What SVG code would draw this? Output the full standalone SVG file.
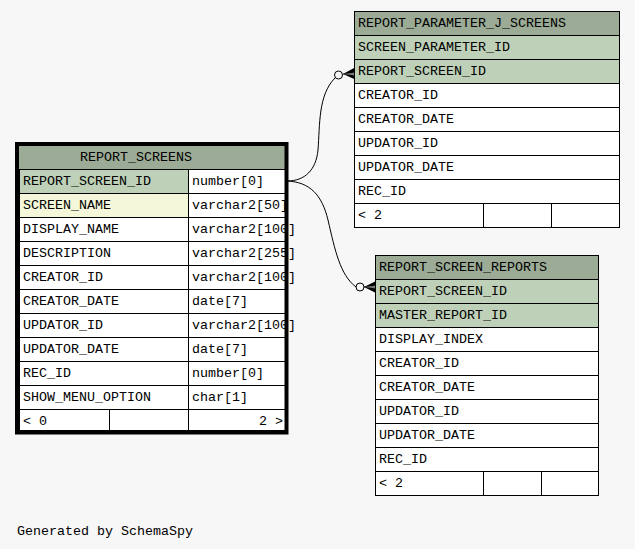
<svg xmlns="http://www.w3.org/2000/svg" width="635" height="549" viewBox="0 0 635 549">
<style>
text{font-family:"Liberation Mono","DejaVu Sans Mono",monospace;font-size:13.33px;fill:#000}
.c{stroke:#000;stroke-width:1}
.hd{fill:#9bab96}
.pk{fill:#bed1b8}
.ix{fill:#f4f7da}
.w{fill:#ffffff}
.edge{fill:none;stroke:#000;stroke-width:1}
</style>
<rect x="0" y="0" width="635" height="549" fill="#f7f7f7"/>

<g id="connectors">
  <path class="edge" d="M287,181 C305,181 316,170 318,150 C320,125 318,95 335,78"/>
  <circle class="edge" cx="338.5" cy="75" r="4"/>
  <path d="M354,68 L343,74 L354,72.8 Z M354,79 L343,74 L354,75.2 Z" fill="#000"/>
  <line class="edge" x1="343" y1="74" x2="354" y2="74"/>

  <path class="edge" d="M287,181 C310,182 322,195 328,220 C335,250 340,275 356,287"/>
  <circle class="edge" cx="360" cy="287" r="4"/>
  <path d="M375,281.5 L364,287 L375,285.8 Z M375,292.5 L364,287 L375,288.2 Z" fill="#000"/>
  <line class="edge" x1="364" y1="287" x2="375" y2="287"/>
</g>

<g id="REPORT_SCREENS">
  <rect class="hd" x="19" y="146" width="267" height="23"/>
  <text x="80" y="161">REPORT_SCREENS</text>
  <rect class="pk c" x="19.5" y="169.5" width="169" height="24"/>
  <rect class="w c" x="188.5" y="169.5" width="97.5" height="24"/>
  <text x="23" y="185">REPORT_SCREEN_ID</text><text x="192" y="185">number[0]</text>
  <rect class="ix c" x="19.5" y="193.5" width="169" height="24"/>
  <rect class="w c" x="188.5" y="193.5" width="97.5" height="24"/>
  <text x="23" y="209">SCREEN_NAME</text><text x="192" y="209">varchar2[50]</text>
  <rect class="w c" x="19.5" y="217.5" width="169" height="24"/>
  <rect class="w c" x="188.5" y="217.5" width="97.5" height="24"/>
  <text x="23" y="233">DISPLAY_NAME</text><text x="192" y="233">varchar2[100]</text>
  <rect class="w c" x="19.5" y="241.5" width="169" height="24"/>
  <rect class="w c" x="188.5" y="241.5" width="97.5" height="24"/>
  <text x="23" y="257">DESCRIPTION</text><text x="192" y="257">varchar2[255]</text>
  <rect class="w c" x="19.5" y="265.5" width="169" height="24"/>
  <rect class="w c" x="188.5" y="265.5" width="97.5" height="24"/>
  <text x="23" y="281">CREATOR_ID</text><text x="192" y="281">varchar2[100]</text>
  <rect class="w c" x="19.5" y="289.5" width="169" height="24"/>
  <rect class="w c" x="188.5" y="289.5" width="97.5" height="24"/>
  <text x="23" y="305">CREATOR_DATE</text><text x="192" y="305">date[7]</text>
  <rect class="w c" x="19.5" y="313.5" width="169" height="24"/>
  <rect class="w c" x="188.5" y="313.5" width="97.5" height="24"/>
  <text x="23" y="329">UPDATOR_ID</text><text x="192" y="329">varchar2[100]</text>
  <rect class="w c" x="19.5" y="337.5" width="169" height="24"/>
  <rect class="w c" x="188.5" y="337.5" width="97.5" height="24"/>
  <text x="23" y="353">UPDATOR_DATE</text><text x="192" y="353">date[7]</text>
  <rect class="w c" x="19.5" y="361.5" width="169" height="24"/>
  <rect class="w c" x="188.5" y="361.5" width="97.5" height="24"/>
  <text x="23" y="377">REC_ID</text><text x="192" y="377">number[0]</text>
  <rect class="w c" x="19.5" y="385.5" width="169" height="24"/>
  <rect class="w c" x="188.5" y="385.5" width="97.5" height="24"/>
  <text x="23" y="401">SHOW_MENU_OPTION</text><text x="192" y="401">char[1]</text>
  <rect class="w c" x="19.5" y="409.5" width="90" height="21"/>
  <rect class="w c" x="109.5" y="409.5" width="79" height="21"/>
  <rect class="w c" x="188.5" y="409.5" width="97.5" height="21"/>
  <text x="23" y="425">&lt; 0</text><text x="283" y="425" text-anchor="end">2 &gt;</text>
  <rect x="17" y="144" width="269.5" height="288.5" fill="none" stroke="#000" stroke-width="4"/>
</g>

<g id="REPORT_PARAMETER_J_SCREENS">
  <rect class="hd c" x="354.5" y="11.5" width="265" height="24"/>
  <text x="358" y="27">REPORT_PARAMETER_J_SCREENS</text>
  <rect class="pk c" x="354.5" y="35.5" width="265" height="24"/>
  <text x="358" y="51">SCREEN_PARAMETER_ID</text>
  <rect class="pk c" x="354.5" y="59.5" width="265" height="24"/>
  <text x="358" y="75">REPORT_SCREEN_ID</text>
  <rect class="w c" x="354.5" y="83.5" width="265" height="24"/>
  <text x="358" y="99">CREATOR_ID</text>
  <rect class="w c" x="354.5" y="107.5" width="265" height="24"/>
  <text x="358" y="123">CREATOR_DATE</text>
  <rect class="w c" x="354.5" y="131.5" width="265" height="24"/>
  <text x="358" y="147">UPDATOR_ID</text>
  <rect class="w c" x="354.5" y="155.5" width="265" height="24"/>
  <text x="358" y="171">UPDATOR_DATE</text>
  <rect class="w c" x="354.5" y="179.5" width="265" height="24"/>
  <text x="358" y="195">REC_ID</text>
  <rect class="w c" x="354.5" y="203.5" width="129" height="24"/>
  <rect class="w c" x="483.5" y="203.5" width="68" height="24"/>
  <rect class="w c" x="551.5" y="203.5" width="68" height="24"/>
  <text x="358" y="219">&lt; 2</text>
</g>

<g id="REPORT_SCREEN_REPORTS">
  <rect class="hd c" x="375.5" y="255.5" width="223" height="24"/>
  <text x="379" y="271">REPORT_SCREEN_REPORTS</text>
  <rect class="pk c" x="375.5" y="279.5" width="223" height="24"/>
  <text x="379" y="295">REPORT_SCREEN_ID</text>
  <rect class="pk c" x="375.5" y="303.5" width="223" height="24"/>
  <text x="379" y="319">MASTER_REPORT_ID</text>
  <rect class="w c" x="375.5" y="327.5" width="223" height="24"/>
  <text x="379" y="343">DISPLAY_INDEX</text>
  <rect class="w c" x="375.5" y="351.5" width="223" height="24"/>
  <text x="379" y="367">CREATOR_ID</text>
  <rect class="w c" x="375.5" y="375.5" width="223" height="24"/>
  <text x="379" y="391">CREATOR_DATE</text>
  <rect class="w c" x="375.5" y="399.5" width="223" height="24"/>
  <text x="379" y="415">UPDATOR_ID</text>
  <rect class="w c" x="375.5" y="423.5" width="223" height="24"/>
  <text x="379" y="439">UPDATOR_DATE</text>
  <rect class="w c" x="375.5" y="447.5" width="223" height="24"/>
  <text x="379" y="463">REC_ID</text>
  <rect class="w c" x="375.5" y="471.5" width="108" height="24"/>
  <rect class="w c" x="483.5" y="471.5" width="58" height="24"/>
  <rect class="w c" x="541.5" y="471.5" width="57" height="24"/>
  <text x="379" y="487">&lt; 2</text>
</g>

<text x="17" y="535">Generated by SchemaSpy</text>
</svg>
